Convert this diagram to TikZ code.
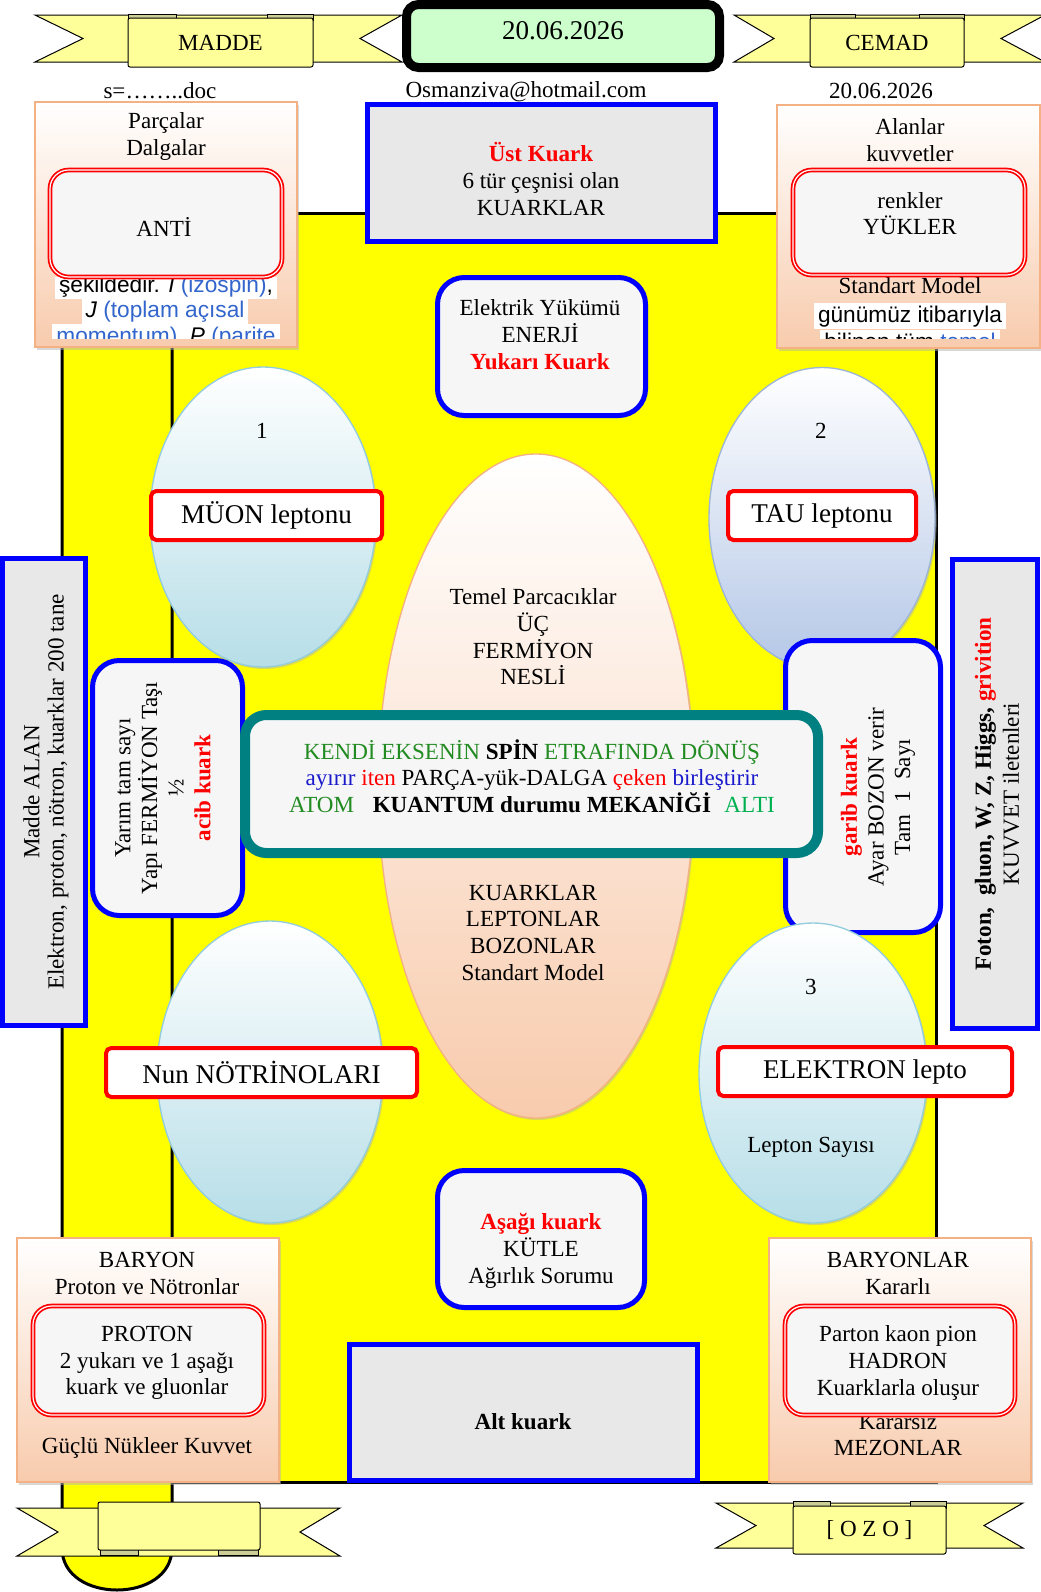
\documentclass[tikz,border=0pt]{standalone}
\usepackage{fontspec}
\setmainfont{Liberation Serif}
\newfontfamily\wikifont{Liberation Sans}
\usetikzlibrary{shapes.geometric,shadows}
\definecolor{myyel}{HTML}{FFFF00}
\definecolor{ribY}{HTML}{FFFF99}
\definecolor{ribTab}{HTML}{CDCD96}
\definecolor{grnF}{HTML}{CCFFCC}
\definecolor{grayF}{HTML}{E8E8E8}
\definecolor{boxF}{HTML}{F6F6F6}
\definecolor{peachC}{HTML}{F8CBAD}
\definecolor{peachB}{HTML}{F4B183}
\definecolor{lbC}{HTML}{B7DEE8}
\definecolor{lbB}{HTML}{93CDDD}
\definecolor{lvC}{HTML}{B4C7E7}
\definecolor{lvB}{HTML}{9DB5D6}
\definecolor{tealB}{HTML}{008080}
\definecolor{linkB}{HTML}{3366CC}
\definecolor{dkG}{HTML}{228B22}
\definecolor{ltG}{HTML}{00B050}
\definecolor{myred}{HTML}{FF0000}
\definecolor{myblue}{HTML}{0000FF}
\definecolor{txtblue}{HTML}{1A1ACC}
\definecolor{myblack}{HTML}{000000}
\definecolor{mywhite}{HTML}{FFFFFF}
\newcommand\myfs{\fontsize{17.3}{20}\selectfont}
\newcommand\mytight{\fontsize{17.3}{18.3}\selectfont}
\newcommand\mybig{\fontsize{20.3}{24}\selectfont}
\newcommand\mywiki{\wikifont\fontsize{17}{20}\selectfont}
\begin{document}
\begin{tikzpicture}[x=0.75pt,y=-0.75pt,
  txt/.style={font=\myfs, align=center, inner sep=0pt},
  ribbon/.style={fill=ribY, draw=myblack, line width=0.75pt},
  ribtab/.style={fill=ribTab, draw=myblack, line width=0.5pt},
  banner/.style={rectangle, rounded corners=1.5pt, fill=ribY, draw=myblack, line width=0.75pt, inner sep=0pt, font=\myfs},
  peachbox/.style={rectangle, inner sep=0pt, top color=mywhite, bottom color=peachC, draw=peachB, line width=1.1pt,
     drop shadow={shadow xshift=1.5pt, shadow yshift=-2.25pt, fill=gray!60}},
  redbox/.style={rectangle, rounded corners=14pt, fill=boxF, draw=myred, line width=1.3pt, double=mywhite, double distance=0.9pt, inner sep=0pt},
  bluebox/.style={rectangle, fill=grayF, draw=myblue, line width=3.75pt, inner sep=0pt},
  bluerbox/.style={bluebox, fill=boxF, rounded corners=20pt},
  lepbox/.style={rectangle, fill=mywhite, draw=myred, line width=3pt, rounded corners=4pt, inner sep=0pt, font=\mybig},
  egg/.style={ellipse, inner sep=0pt, draw=lbB, line width=1pt, top color=mywhite, bottom color=lbC,
     drop shadow={shadow xshift=1.2pt, shadow yshift=-1.5pt, fill=gray!60}},
  wiki/.style={font=\mywiki, fill=mywhite, inner xsep=3pt, inner ysep=2pt}]
\useasboundingbox (0,0) rectangle (1041,1592);
\fill[mywhite] (0,0) rectangle (1041,1592);

% main yellow frame and left strip
\node[rectangle, fill=myyel, draw=myblack, line width=2.25pt, minimum width=655.5pt, minimum height=951.75pt, inner sep=0pt] (frame) at (499,847.5) {};
\fill[myyel] (62,213) -- (62,1548) .. controls (62,1604) and (172,1604) .. (172,1548) -- (172,213) -- cycle;
\draw[myblack, line width=2.25pt] (62,213) -- (62,1548) .. controls (62,1604) and (172,1604) .. (172,1548) -- (172,213);

% top ribbons
\filldraw[ribbon] (35,15) -- (402,15) -- (360,38.5) -- (402,62) -- (35,62) -- (83,38.5) -- cycle;
\filldraw[ribtab] (128,14) rectangle (176,20);
\filldraw[ribtab] (267,14) rectangle (313,20);
\node[banner, minimum width=138.75pt, minimum height=36.75pt] (madde) at (220.5,42.5) {MADDE};

\filldraw[ribbon] (734,15) -- (1045,15) -- (1001,38.5) -- (1045,62) -- (734,62) -- (774,38.5) -- cycle;
\filldraw[ribtab] (810,14) rectangle (855,20);
\filldraw[ribtab] (919,14) rectangle (964,20);
\node[banner, minimum width=115.5pt, minimum height=36.75pt] (cemad) at (887,42.5) {CEMAD};

\node[rectangle, rounded corners=9pt, fill=grnF, draw=myblack, line width=6.75pt, minimum width=234.75pt, minimum height=47.25pt, inner sep=0pt] (date) at (563,36) {};
\node[font=\mybig, inner sep=0pt] (dateT) at (563,31) {20.06.2026};

% small texts
\node[txt] (sdoc) at (160,91) {s=……..doc};
\node[txt] (mail) at (526,92) {Osmanziva@hotmail.com};
\node[txt] (date2) at (881,91) {20.06.2026};

% top-left peach box
\node[peachbox, minimum width=196.5pt, minimum height=183.75pt] (parc) at (166,224.5) {};
\node[txt] (parcT) at (166,136.5) {Parçalar\\Dalgalar};
\begin{scope}
\clip (50,277) rectangle (283,338);
\node[wiki, anchor=base] (w1) at (166,292) {şekildedir. \textit{I} \textcolor{linkB}{(izospin)},};
\node[wiki, anchor=base] (w2) at (165,317) {\textit{J} \textcolor{linkB}{(toplam açısal}};
\node[wiki, anchor=base] (w3) at (166,343) {\textcolor{linkB}{momentum)}, \textit{P} \textcolor{linkB}{(parite}};
\end{scope}
\node[redbox, minimum width=174pt, minimum height=80.25pt] (anti) at (166,223.5) {};
\node[txt] (antiT) at (164,227) {ANTİ};

% top-right peach box
\node[peachbox, minimum width=197.25pt, minimum height=182.25pt] (alan) at (908.5,226.5) {};
\node[txt] (alanT) at (910,140) {Alanlar\\kuvvetler};
\begin{scope}
\clip (790,275) rectangle (1027,338);
\node[txt, anchor=base] (stdm) at (910,293) {Standart Model};
\node[wiki, anchor=base] (w4) at (910,322) {günümüz itibarıyla};
\node[wiki, anchor=base] (w5) at (910,349) {bilinen tüm \textcolor{linkB}{temel}};
\end{scope}
\node[redbox, minimum width=174pt, minimum height=78.75pt] (renk) at (909,222.5) {};
\node[txt] (renkT) at (910,213.5) {renkler\\YÜKLER};

% top center boxes
\node[bluebox, minimum width=261pt, minimum height=102.75pt] (ust) at (541,173) {};
\node[txt] (ustT) at (541,179) {\textbf{\textcolor{myred}{Üst Kuark}}\\6 tür çeşnisi olan\\KUARKLAR};
\node[bluerbox, minimum width=156pt, minimum height=103.5pt] (elek) at (541.5,346.5) {};
\node[txt] (elekT) at (540,334.5) {Elektrik Yükümü\\ENERJİ\\\textbf{\textcolor{myred}{Yukarı Kuark}}};

% upper ellipses and core
\node[egg, minimum width=169.5pt, minimum height=225pt] (e1) at (263,517) {};
\node[txt] (e1n) at (262,431) {1};
\node[egg, draw=lvB, bottom color=lvC, minimum width=169.5pt, minimum height=226.5pt] (e2) at (822,518.5) {};
\node[txt] (e2n) at (821,431) {2};
\node[ellipse, inner sep=0pt, draw=peachB, line width=1pt, top color=mywhite, bottom color=peachC, minimum width=237pt, minimum height=498pt,
  drop shadow={shadow xshift=1.2pt, shadow yshift=-1.5pt, fill=gray!60}] (core) at (536,786) {};
\node[txt] (coreA) at (533,637) {Temel Parcacıklar\\ÜÇ\\FERMİYON\\NESLİ};
\node[txt] (coreB) at (533,932.5) {KUARKLAR\\LEPTONLAR\\BOZONLAR\\Standart Model};

% side boxes
\node[bluebox, minimum width=62.25pt, minimum height=350.25pt] (madA) at (44,792) {};
\node[rotate=90, align=center, inner sep=0pt, font=\mytight] (madAT) at (46,792) {Madde ALAN\\Elektron, proton, nötron, kuarklar 200 tane};
\node[bluerbox, minimum width=112.5pt, minimum height=191.25pt] (yarim) at (167.5,788) {};
\node[txt, rotate=90] (yarimT) at (163,788) {Yarım tam sayı\\Yapı FERMİYON Taşı\\½\\\textbf{\textcolor{myred}{acib kuark}}};
\node[bluerbox, minimum width=116.25pt, minimum height=219pt] (garib) at (863,786.5) {};
\node[txt, rotate=90] (garibT) at (878,797) {\textbf{\textcolor{myred}{garib kuark}}\\Ayar BOZON verir\\Tam~~1~~Sayı};
\node[bluebox, minimum width=63.75pt, minimum height=351.75pt] (foton) at (995,794) {};
\node[rotate=90, align=center, inner sep=0pt, font={\fontsize{17.3}{21}\selectfont}] (fotonT) at (997,794) {\textbf{Foton,~~gluon, W, Z, Higgs, \textcolor{myred}{grivition}}\\KUVVET iletenleri};

% lower ellipses
\node[egg, minimum width=169.5pt, minimum height=226.5pt] (e3) at (270,1072) {};
\node[egg, minimum width=171pt, minimum height=225pt] (e4) at (813,1073) {};
\node[txt] (e4n) at (811,987) {3};
\node[txt] (e4s) at (811,1147) {Lepton Sayısı};

% lepton labels
\node[lepbox, minimum width=173.25pt, minimum height=36.75pt] (muon) at (266.5,515.5) {MÜON leptonu};
\node[lepbox, minimum width=141pt, minimum height=36.75pt] (tau) at (822,515.5) {TAU leptonu};
\node[lepbox, minimum width=233.25pt, minimum height=36.75pt] (nun) at (261.5,1072.5) {Nun NÖTRİNOLARI};
\node[lepbox, minimum width=220.5pt, minimum height=36.75pt] (elep) at (865,1071.5) {ELEKTRON lepto};

% central teal box
\node[rectangle, rounded corners=16pt, fill=boxF, draw=tealB, line width=7.5pt, minimum width=429.75pt, minimum height=103.5pt, inner sep=0pt] (spin) at (531.5,784) {};
\node[txt] (spinT) at (532,776) {\textcolor{dkG}{KENDİ EKSENİN} \textbf{SPİN} \textcolor{dkG}{ETRAFINDA DÖNÜŞ}\\
\textcolor{txtblue}{ayırır} \textcolor{myred}{iten} PARÇA-yük-DALGA \textcolor{myred}{çeken} \textcolor{txtblue}{birleştirir}\\
\textcolor{dkG}{ATOM}\hspace{14pt}\textbf{KUANTUM durumu MEKANİĞİ}\hspace{10pt}\textcolor{ltG}{ALTI}};

% bottom center boxes
\node[bluerbox, minimum width=155.25pt, minimum height=102.75pt] (asagi) at (541,1239) {};
\node[txt] (asagiT) at (541,1251) {\textbf{\textcolor{myred}{Aşağı kuark}}\\KÜTLE\\Ağırlık Sorumu};
\node[bluebox, minimum width=261pt, minimum height=102pt] (alt) at (523.5,1412.5) {};
\node[txt] (altT) at (523,1422) {\textbf{Alt kuark}};

% bottom peach boxes
\node[peachbox, minimum width=196.5pt, minimum height=183pt] (bar) at (148,1360) {};
\node[txt] (barT) at (147,1273.5) {BARYON\\Proton ve Nötronlar};
\node[txt] (barK) at (147,1448) {Güçlü Nükleer Kuvvet};
\node[redbox, minimum width=173.25pt, minimum height=81.75pt] (proton) at (148.5,1360.5) {};
\node[txt] (protonT) at (147,1363) {PROTON\\2 yukarı ve 1 aşağı\\kuark ve gluonlar};

\node[peachbox, minimum width=196.5pt, minimum height=183pt] (barl) at (900,1360) {};
\node[txt] (barlT) at (898,1273.5) {BARYONLAR\\Kararlı};
\node[txt] (barlK) at (898,1435) {Kararsız\\MEZONLAR};
\node[redbox, minimum width=172.5pt, minimum height=81.75pt] (hadron) at (900,1360.5) {};
\node[txt] (hadronT) at (898,1363) {Parton kaon pion\\HADRON\\Kuarklarla oluşur};

% bottom ribbons
\filldraw[ribbon] (17,1508) -- (340,1508) -- (300,1532) -- (340,1556) -- (17,1556) -- (58,1532) -- cycle;
\filldraw[ribtab] (100,1548) rectangle (138,1555);
\filldraw[ribtab] (218,1548) rectangle (258,1555);
\node[banner, minimum width=121.5pt, minimum height=36pt] (rib3) at (179,1526) {};

\filldraw[ribbon] (716,1503) -- (1023,1503) -- (984,1525.5) -- (1023,1548) -- (716,1548) -- (756,1525.5) -- cycle;
\filldraw[ribtab] (793,1501) rectangle (830,1508);
\filldraw[ribtab] (910,1501) rectangle (946,1508);
\node[banner, minimum width=114.75pt, minimum height=36pt] (ozo) at (869.5,1530) {[ O Z O ]};
\end{tikzpicture}
\end{document}
